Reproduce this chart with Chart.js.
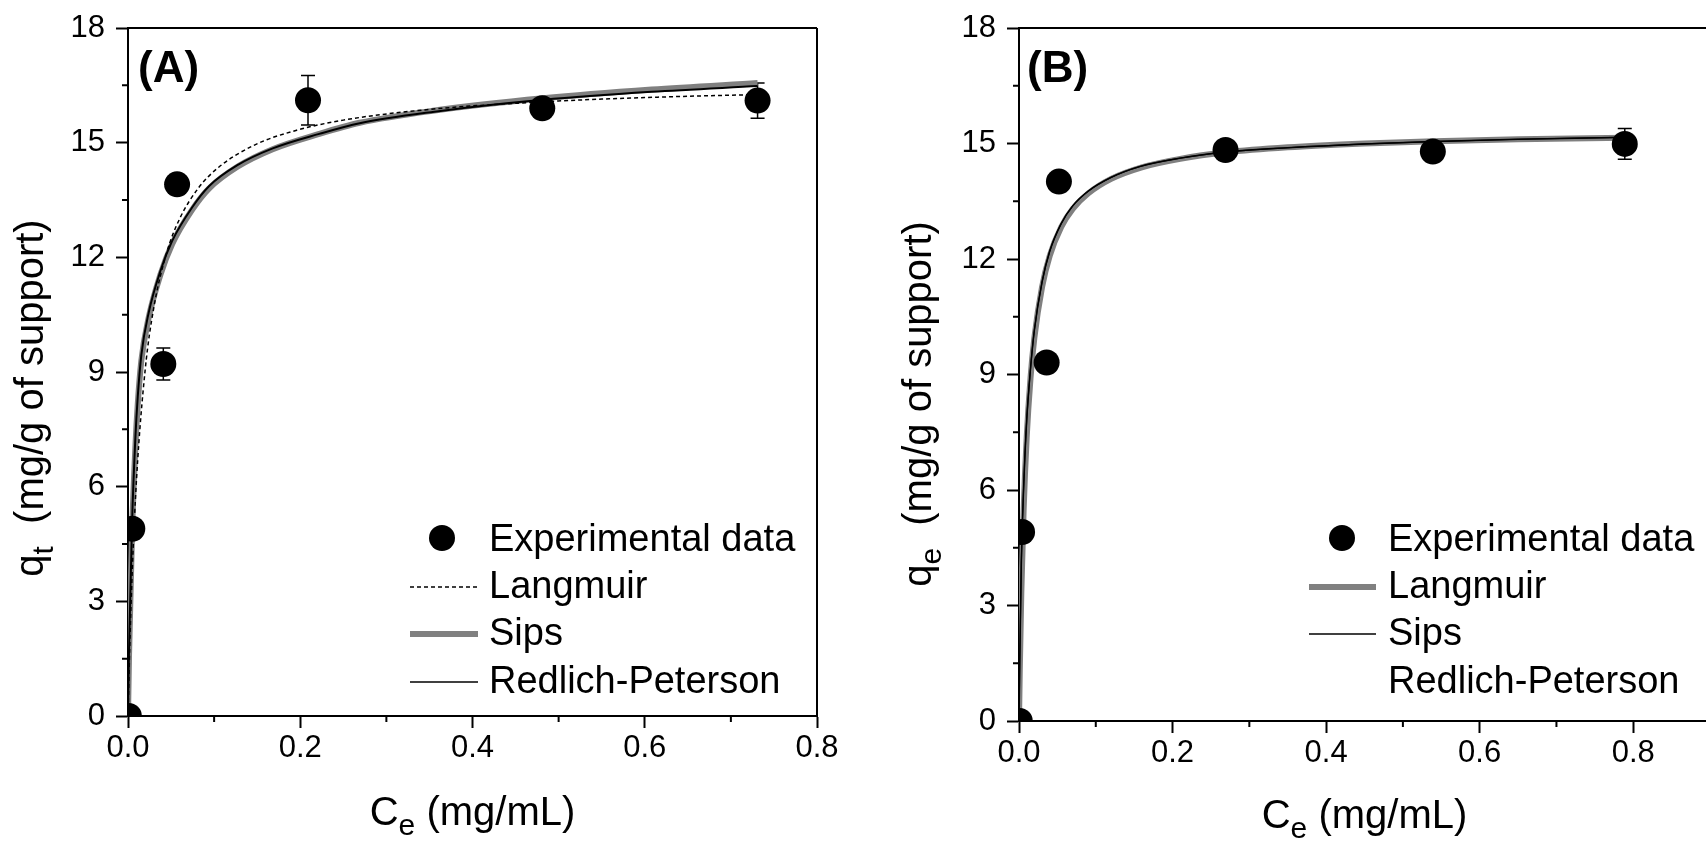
<!DOCTYPE html>
<html><head><meta charset="utf-8">
<script src="https://cdn.jsdelivr.net/npm/chart.js@4.4.1/dist/chart.umd.min.js"></script>
<style>
html,body{margin:0;padding:0;background:#fff;overflow:hidden;width:1706px;height:842px;position:relative;}
#wa{position:absolute;left:0;top:0;width:853px;height:842px;}
#wb{position:absolute;left:853px;top:0;width:900px;height:842px;}
canvas{display:block;}
</style></head><body>
<div id="wa"><canvas id="ca" width="853" height="842"></canvas></div>
<div id="wb"><canvas id="cb" width="900" height="842"></canvas></div>
<script>
// ---------- tick labels ----------
const xTickValues = [0, 0.2, 0.4, 0.6, 0.8];
const yTickValues = [0, 3, 6, 9, 12, 15, 18];
const xMinorValues = [0.1, 0.3, 0.5, 0.7];
const yMinorValues = [1.5, 4.5, 7.5, 10.5, 13.5, 16.5];

// ---------- Panel A ----------
const expA_x = [0.001, 0.005, 0.041, 0.057, 0.209, 0.481, 0.731];
const expA_y = [0, 4.90, 9.21, 13.91, 16.11, 15.90, 16.10];
const expA_err = [0, 0, 0.42, 0, 0.65, 0, 0.46];

const langA_x = [0, 0.002, 0.005, 0.01, 0.02, 0.03, 0.045, 0.06, 0.082, 0.106, 0.148, 0.195, 0.25, 0.35, 0.482, 0.6, 0.731];
const langA_y = [0, 1.78, 3.84, 6.24, 9.07, 10.69, 12.13, 13.01, 13.82, 14.37, 14.95, 15.32, 15.59, 15.87, 16.07, 16.18, 16.26];

const sipsA_x = [0, 0.0012, 0.0047, 0.0085, 0.0113, 0.0155, 0.024, 0.0377, 0.0513, 0.0746, 0.094, 0.127, 0.168, 0.222, 0.269, 0.356, 0.482, 0.608, 0.731];
const sipsA_y = [0, 1.60, 4.80, 7.00, 8.15, 9.30, 10.42, 11.55, 12.35, 13.25, 13.80, 14.37, 14.83, 15.23, 15.52, 15.84, 16.16, 16.39, 16.56];

const rpA_x = [0, 0.0012, 0.0047, 0.0085, 0.0113, 0.0155, 0.024, 0.0377, 0.0513, 0.0746, 0.094, 0.127, 0.168, 0.222, 0.269, 0.356, 0.482, 0.608, 0.731];
const rpA_y = [0, 1.74, 5.05, 7.25, 8.35, 9.45, 10.55, 11.65, 12.43, 13.31, 13.86, 14.41, 14.85, 15.23, 15.51, 15.81, 16.12, 16.33, 16.48];

// ---------- Panel B ----------
const expB_x = [0.001, 0.004, 0.036, 0.052, 0.269, 0.539, 0.789];
const expB_y = [0, 4.91, 9.31, 14.01, 14.83, 14.79, 14.99];
const expB_err = [0, 0, 0, 0, 0, 0, 0.40];

const langB_x = [0, 0.001, 0.003, 0.006, 0.01, 0.015, 0.02, 0.03, 0.04, 0.055, 0.07, 0.09, 0.12, 0.16, 0.21, 0.27, 0.35, 0.45, 0.54, 0.65, 0.789];
const langB_y = [0, 1.29, 3.32, 5.46, 7.36, 8.91, 9.95, 11.27, 12.08, 12.83, 13.30, 13.70, 14.08, 14.38, 14.60, 14.77, 14.90, 15.00, 15.06, 15.11, 15.15];

const sipsB_x = [0, 0.001, 0.003, 0.0065, 0.01, 0.015, 0.02, 0.03, 0.04, 0.055, 0.07, 0.09, 0.12, 0.157, 0.21, 0.266, 0.35, 0.45, 0.539, 0.65, 0.789];
const sipsB_y = [0, 1.55, 4.10, 6.30, 7.80, 9.15, 10.15, 11.40, 12.20, 12.92, 13.38, 13.76, 14.12, 14.40, 14.62, 14.77, 14.89, 14.99, 15.05, 15.11, 15.16];

const rpB_x = [0, 0.001, 0.003, 0.0065, 0.01, 0.015, 0.02, 0.03, 0.04, 0.055, 0.07, 0.09, 0.12, 0.157, 0.21, 0.266, 0.35, 0.45, 0.539, 0.65, 0.789];
const rpB_y = [0, 1.55, 4.10, 6.30, 7.80, 9.15, 10.15, 11.40, 12.20, 12.92, 13.38, 13.76, 14.12, 14.40, 14.62, 14.77, 14.89, 14.99, 15.05, 15.11, 15.16];

// ---------- helpers ----------
const FONT = '"Liberation Sans", Arial, Helvetica, sans-serif';
const GRAY = '#808080';
const pts = (xs, ys) => xs.map((x, i) => ({x: x, y: ys[i]}));

function scatterSet(label, xs, ys) {
  return {label, data: pts(xs, ys), showLine: false, pointRadius: 13, pointHoverRadius: 13,
          pointBackgroundColor: '#000', pointBorderColor: '#000', pointBorderWidth: 0, order: 0, clip: 0};
}
function lineSet(label, xs, ys, color, width, dash, order) {
  return {label, data: pts(xs, ys), showLine: true, pointRadius: 0, pointHoverRadius: 0,
          borderColor: color, borderWidth: width, borderDash: dash || [], fill: false,
          cubicInterpolationMode: 'monotone', order: order, borderCapStyle: 'butt', borderJoinStyle: 'round'};
}

function drawRich(ctx, parts, size, x, y, rotate) {
  ctx.save();
  ctx.translate(x, y);
  if (rotate) ctx.rotate(-Math.PI / 2);
  const subSize = size * 0.75;
  const widths = parts.map(p => { ctx.font = (p[1] ? subSize : size) + 'px ' + FONT; return ctx.measureText(p[0]).width; });
  const total = widths.reduce((a, b) => a + b, 0);
  let cx = -total / 2;
  ctx.fillStyle = '#000'; ctx.textBaseline = 'alphabetic'; ctx.textAlign = 'left';
  parts.forEach((p, i) => {
    ctx.font = (p[1] ? subSize : size) + 'px ' + FONT;
    ctx.fillText(p[0], cx, p[1] ? size * 0.26 : 0);
    cx += widths[i];
  });
  ctx.restore();
}

function decor(o) {
  return {
    id: 'decor_' + o.name,
    beforeDatasetsDraw(chart) {
      const ctx = chart.ctx, xs = chart.scales.x, ys = chart.scales.y;
      ctx.save();
      ctx.strokeStyle = '#000'; ctx.lineWidth = 1.5;
      o.errX.forEach((xv, i) => {
        const e = o.errV[i];
        if (!e) return;
        const px = xs.getPixelForValue(xv);
        const t = ys.getPixelForValue(o.errY[i] + e), b = ys.getPixelForValue(o.errY[i] - e);
        ctx.beginPath();
        ctx.moveTo(px, t); ctx.lineTo(px, b);
        ctx.moveTo(px - 7, t); ctx.lineTo(px + 7, t);
        ctx.moveTo(px - 7, b); ctx.lineTo(px + 7, b);
        ctx.stroke();
      });
      ctx.restore();
    },
    afterDraw(chart) {
      const ctx = chart.ctx, a = chart.chartArea, xs = chart.scales.x, ys = chart.scales.y;
      ctx.save();
      // frame (top, right)
      ctx.strokeStyle = '#000'; ctx.lineWidth = 2;
      ctx.beginPath();
      ctx.moveTo(a.left - 1, a.top); ctx.lineTo(a.right, a.top);
      ctx.moveTo(a.right, a.top); ctx.lineTo(a.right, a.bottom + 1);
      ctx.stroke();
      // minor ticks
      ctx.beginPath();
      xMinorValues.forEach(v => { const p = xs.getPixelForValue(v); ctx.moveTo(p, a.bottom); ctx.lineTo(p, a.bottom + 6); });
      yMinorValues.forEach(v => { const p = ys.getPixelForValue(v); ctx.moveTo(a.left - 6, p); ctx.lineTo(a.left, p); });
      ctx.stroke();
      // panel label
      ctx.fillStyle = '#000';
      ctx.font = 'bold 44px ' + FONT;
      ctx.textAlign = 'left'; ctx.textBaseline = 'alphabetic';
      ctx.fillText(o.panel, a.left + o.panelDx, 82);
      // axis titles
      drawRich(ctx, [['C', false], ['e', true], [' (mg/mL)', false]], 40, (a.left + a.right) / 2 + o.xTitleDx, o.xTitleY, false);
      drawRich(ctx, [['q', false], [o.ySub, true], ['  (mg/g of support)', false]], 40, o.yTitleX, o.yTitleY, true);
      // legend
      ctx.font = '38px ' + FONT;
      o.legend.forEach(it => {
        const base = it.base;
        ctx.fillStyle = '#000';
        ctx.fillText(it.text, o.legTextX, base);
        const ly = base - 11;
        if (it.kind === 'marker') {
          ctx.beginPath(); ctx.arc(o.legMarkX, base - 13, 13, 0, Math.PI * 2); ctx.fill();
        } else if (it.kind !== 'none') {
          ctx.beginPath();
          ctx.strokeStyle = it.kind === 'thick' ? GRAY : '#000';
          ctx.lineWidth = it.kind === 'thick' ? 6 : 1.5;
          ctx.setLineDash(it.kind === 'dash' ? [4, 3] : []);
          ctx.moveTo(o.legX1, ly); ctx.lineTo(o.legX2, ly); ctx.stroke();
          ctx.setLineDash([]);
        }
      });
      ctx.restore();
    }
  };
}

function makeChart(id, o) {
  const tickFont = {family: FONT, size: 31};
  return new Chart(document.getElementById(id), {
    type: 'scatter',
    data: {datasets: o.datasets},
    options: {
      responsive: false, animation: false, devicePixelRatio: 1,
      events: [],
      layout: {padding: o.padding},
      plugins: {legend: {display: false}, tooltip: {enabled: false}},
      scales: {
        x: {
          type: 'linear', min: 0, max: o.xMax,
          afterBuildTicks: s => { s.ticks = xTickValues.map(v => ({value: v})); },
          afterFit: s => { s.height = o.xHeight; s.paddingLeft = 0; s.paddingRight = 0; s.paddingTop = 0; s.paddingBottom = 0; },
          ticks: {callback: v => Number(v).toFixed(1), font: tickFont, color: '#000', padding: 2, maxRotation: 0, autoSkip: false},
          grid: {display: true, drawOnChartArea: false, drawTicks: true, tickLength: 12, tickWidth: 2, tickColor: '#000'},
          border: {display: true, color: '#000', width: 2}
        },
        y: {
          type: 'linear', min: 0, max: 18,
          afterBuildTicks: s => { s.ticks = yTickValues.map(v => ({value: v})); },
          afterFit: s => { s.width = o.yWidth; s.paddingLeft = 0; s.paddingRight = 0; s.paddingTop = 0; s.paddingBottom = 0; },
          ticks: {callback: v => String(v), font: tickFont, color: '#000', padding: 11, autoSkip: false},
          grid: {display: true, drawOnChartArea: false, drawTicks: true, tickLength: 12, tickWidth: 2, tickColor: '#000'},
          border: {display: true, color: '#000', width: 2}
        }
      }
    },
    plugins: [decor(o)]
  });
}

const legBases = [551, 598, 645, 693];

makeChart('ca', {
  name: 'A', panel: '(A)', panelDx: 10, xMax: 0.8,
  padding: {top: 28, right: 36, left: 0, bottom: 0}, yWidth: 128, xHeight: 126,
  xTitleDx: 0, xTitleY: 825, yTitleX: 43, yTitleY: 398, ySub: 't',
  errX: expA_x, errY: expA_y, errV: expA_err,
  legTextX: 489, legMarkX: 442, legX1: 410, legX2: 478,
  legend: [
    {text: 'Experimental data', kind: 'marker', base: legBases[0]},
    {text: 'Langmuir', kind: 'dash', base: legBases[1]},
    {text: 'Sips', kind: 'thick', base: legBases[2]},
    {text: 'Redlich-Peterson', kind: 'thin', base: legBases[3]}
  ],
  datasets: [
    scatterSet('Experimental data', expA_x, expA_y),
    lineSet('Langmuir', langA_x, langA_y, '#000', 1.5, [4, 3], 1),
    lineSet('Redlich-Peterson', rpA_x, rpA_y, '#000', 2, null, 2),
    lineSet('Sips', sipsA_x, sipsA_y, GRAY, 6, null, 3)
  ]
});

makeChart('cb', {
  name: 'B', panel: '(B)', panelDx: 8, xMax: 0.9,
  padding: {top: 28, right: 43, left: 0, bottom: 0}, yWidth: 166, xHeight: 121,
  xTitleDx: 0, xTitleY: 828, yTitleX: 78, yTitleY: 404, ySub: 'e',
  errX: expB_x, errY: expB_y, errV: expB_err,
  legTextX: 535, legMarkX: 489, legX1: 456, legX2: 523,
  legend: [
    {text: 'Experimental data', kind: 'marker', base: legBases[0]},
    {text: 'Langmuir', kind: 'thick', base: legBases[1]},
    {text: 'Sips', kind: 'thin', base: legBases[2]},
    {text: 'Redlich-Peterson', kind: 'none', base: legBases[3]}
  ],
  datasets: [
    scatterSet('Experimental data', expB_x, expB_y),
    lineSet('Redlich-Peterson', rpB_x, rpB_y, '#000', 1.2, null, 1),
    lineSet('Sips', sipsB_x, sipsB_y, '#000', 1.5, null, 2),
    lineSet('Langmuir', langB_x, langB_y, GRAY, 6, null, 3)
  ]
});
</script>
</body></html>
